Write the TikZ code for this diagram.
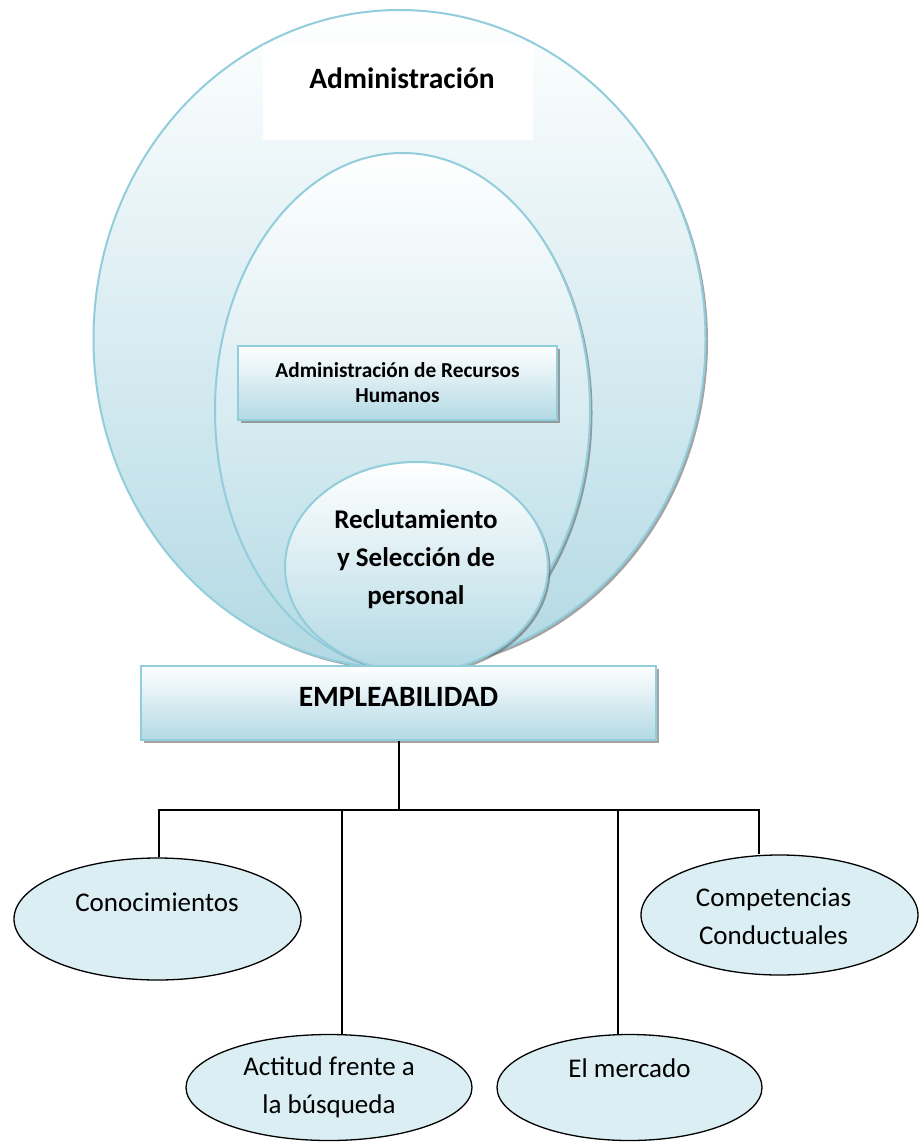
\documentclass[tikz,border=0pt]{standalone}
\usepackage{fontspec}
\setmainfont{Carlito}
\usetikzlibrary{shapes.geometric,shadows}
\definecolor{bordc}{HTML}{92CDDC}
\definecolor{botc}{HTML}{B2D9E4}
\definecolor{midc}{HTML}{E9F4F8}
\definecolor{elfill}{HTML}{DAEEF3}
\begin{document}
\begin{tikzpicture}[x=1pt,y=-1pt,
  shade3/.style={top color=white, middle color=midc, bottom color=botc, draw=bordc, line width=2pt,
    drop shadow={shadow xshift=2.5pt, shadow yshift=-2.5pt, opacity=.6, fill=black!60}},
  bigell/.style={shade3, ellipse, inner sep=0pt},
  gbox/.style={top color=white, bottom color=botc, draw=bordc, line width=2pt, rectangle, inner sep=0pt,
    drop shadow={shadow xshift=3pt, shadow yshift=-3pt, opacity=.6, fill=black!60}},
  leaf/.style={ellipse, draw=black, line width=1.3pt, fill=elfill, inner sep=0pt, align=center,
    font=\fontsize{27}{38}\selectfont},
  btxt/.style={font=\bfseries\fontsize{27}{38}\selectfont, align=center, inner sep=0pt},
  rtxt/.style={font=\fontsize{27}{38}\selectfont, align=center, inner sep=0pt},
  conn/.style={draw=black, line width=1.4pt}]
\useasboundingbox (0,0) rectangle (920,1142);
% nested shapes
\node[bigell, minimum width=612pt, minimum height=658pt] (outer) at (399.5,339) {};
\node[fill=white, minimum width=270pt, minimum height=95pt, inner sep=0pt] (titlebg) at (398,92.5) {};
\node[btxt, font=\bfseries\fontsize{29.5}{38}\selectfont] (title) at (402,78) {Administración};
\node[bigell, minimum width=375pt, minimum height=515pt] (middle) at (402.5,410.5) {};
\node[gbox, minimum width=319pt, minimum height=74pt, align=center,
  font=\bfseries\fontsize{21.3}{25}\selectfont] (arh) at (397.5,383) {Administración de Recursos\\Humanos};
\node[bigell, minimum width=263pt, minimum height=210pt] (inner) at (416.5,567) {};
\node[btxt] (recl) at (416,559) {Reclutamiento\\y Selección de\\personal};
\node[gbox, minimum width=515pt, minimum height=74pt] (emp) at (398.5,703) {};
\node[btxt, font=\bfseries\fontsize{29.5}{38}\selectfont] (emptxt) at (398.5,697) {EMPLEABILIDAD};
% leaves
\node[leaf, minimum width=287pt, minimum height=122pt] (kn) at (157.5,919) {};
\node[rtxt] (kntxt) at (157,902) {Conocimientos};
\node[leaf, minimum width=277pt, minimum height=120pt] (comp) at (779.5,915) {};
\node[rtxt] (comptxt) at (773.5,916) {Competencias\\Conductuales};
\node[leaf, minimum width=286pt, minimum height=106pt] (act) at (329,1087.5) {Actitud frente a\\la búsqueda};
\node[leaf, minimum width=265pt, minimum height=106pt] (mer) at (629.5,1087.5) {};
\node[rtxt] (mertxt) at (629.5,1068) {El mercado};
% connectors
\coordinate (j) at (399,810);
\coordinate (d1) at (159,810);
\coordinate (d2) at (342,810);
\coordinate (d3) at (618,810);
\coordinate (d4) at (759,810);
\draw[conn] (emp.south -| j) -- (j);
\draw[conn] (d1 |- kn.north) -- (d1) -- (d4) -- (d4 |- comp.north);
\draw[conn] (d2) -- (d2 |- act.north);
\draw[conn] (d3) -- (d3 |- mer.north);
\end{tikzpicture}
\end{document}
